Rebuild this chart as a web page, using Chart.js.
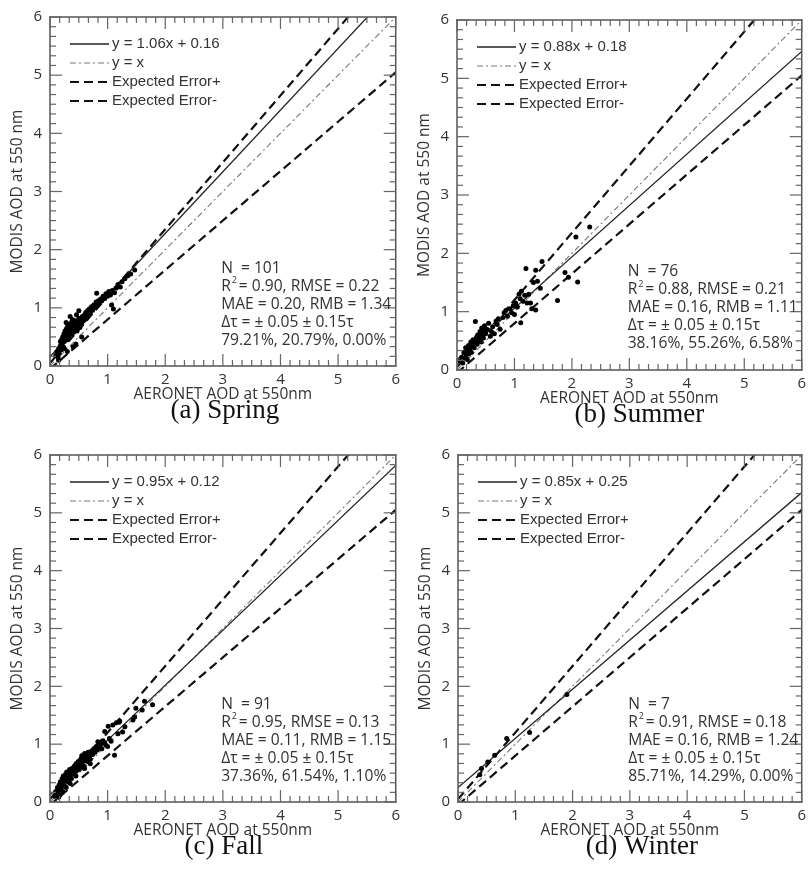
<!DOCTYPE html>
<html>
<head>
<meta charset="utf-8">
<script src="https://cdn.jsdelivr.net/npm/chart.js@4.4.1/dist/chart.umd.min.js"></script>
<style>
  body { margin: 0; background: #fff; width: 811px; height: 872px; position: relative; overflow: hidden; }
  canvas { position: absolute; }
</style>
</head>
<body>
<canvas id="cA" width="405" height="436" style="left:0px;top:0px"></canvas>
<canvas id="cB" width="406" height="436" style="left:405px;top:0px"></canvas>
<canvas id="cC" width="405" height="436" style="left:0px;top:436px"></canvas>
<canvas id="cD" width="406" height="436" style="left:405px;top:436px"></canvas>
<script>
// AERONET vs MODIS AOD, one panel per season
const captions = ['(a) Spring', '(b) Summer', '(c) Fall', '(d) Winter'];
const slopes = [1.06, 0.88, 0.95, 0.85];
const intercepts = [0.16, 0.18, 0.12, 0.25];
const nValues = ['101', '76', '91', '7'];
const r2Values = ['0.90', '0.88', '0.95', '0.91'];
const rmseValues = ['0.22', '0.21', '0.13', '0.18'];
const maeValues = ['0.20', '0.16', '0.11', '0.16'];
const rmbValues = ['1.34', '1.11', '1.15', '1.24'];
const eePercents = ['79.21%, 20.79%, 0.00%', '38.16%, 55.26%, 6.58%', '37.36%, 61.54%, 1.10%', '85.71%, 14.29%, 0.00%'];
const axisTicks = [0, 1, 2, 3, 4, 5, 6];
// expected error envelope: +-(0.05 + 0.15 tau)
const eePlus = [1.15, 0.05];
const eeMinus = [0.85, -0.05];

const springPts = [
  [0.10,0.18],[0.12,0.25],[0.14,0.15],[0.15,0.30],[0.16,0.22],[0.18,0.35],[0.18,0.42],[0.20,0.28],[0.20,0.45],[0.21,0.38],
  [0.22,0.50],[0.23,0.33],[0.24,0.55],[0.25,0.42],[0.26,0.60],[0.27,0.48],[0.28,0.52],[0.29,0.65],[0.30,0.45],[0.30,0.58],
  [0.31,0.70],[0.32,0.55],[0.33,0.62],[0.33,0.50],[0.34,0.68],[0.35,0.58],[0.35,0.72],[0.36,0.64],[0.37,0.55],[0.37,0.75],
  [0.38,0.60],[0.38,0.68],[0.39,0.80],[0.40,0.62],[0.40,0.70],[0.41,0.58],[0.42,0.66],[0.42,0.74],[0.43,0.60],[0.44,0.70],
  [0.44,0.78],[0.45,0.64],[0.46,0.72],[0.46,0.88],[0.47,0.60],[0.48,0.68],[0.48,0.76],[0.50,0.70],[0.50,0.82],[0.52,0.66],
  [0.52,0.74],[0.54,0.80],[0.55,0.72],[0.56,0.85],[0.58,0.78],[0.60,0.88],[0.60,0.80],[0.62,0.92],[0.64,0.84],[0.65,0.95],
  [0.67,0.90],[0.68,0.98],[0.70,0.92],[0.72,1.02],[0.74,0.96],[0.76,1.05],[0.78,1.00],[0.80,1.10],[0.81,1.25],[0.82,1.04],
  [0.84,1.12],[0.86,1.08],[0.88,1.15],[0.90,1.12],[0.92,1.20],[0.95,1.16],[0.97,1.24],[1.00,1.20],[1.02,1.28],[1.05,1.22],
  [1.07,1.05],[1.08,1.30],[1.10,0.98],[1.12,1.26],[1.15,1.34],[1.18,1.40],[1.22,1.36],[1.25,1.45],[1.30,1.50],[1.35,1.55],
  [1.40,1.58],[1.47,1.65],[0.30,0.25],[0.40,0.33],[0.45,0.38],[0.55,0.50],[0.25,0.30],[0.15,0.10],[0.50,0.95],[0.35,0.85],
  [0.28,0.75]
];
const summerPts = [
  [0.05,0.15],[0.08,0.22],[0.10,0.12],[0.12,0.30],[0.14,0.20],[0.15,0.38],[0.16,0.25],[0.18,0.18],[0.18,0.32],[0.20,0.42],
  [0.21,0.28],[0.22,0.35],[0.24,0.48],[0.25,0.30],[0.26,0.40],[0.28,0.45],[0.28,0.52],[0.30,0.38],[0.32,0.83],[0.32,0.50],
  [0.34,0.56],[0.35,0.44],[0.36,0.60],[0.38,0.52],[0.40,0.66],[0.40,0.58],[0.42,0.48],[0.43,0.72],[0.44,0.62],[0.46,0.55],
  [0.47,0.68],[0.48,0.76],[0.50,0.62],[0.52,0.70],[0.55,0.80],[0.58,0.58],[0.62,0.74],[0.68,0.84],[0.70,0.78],[0.72,0.88],
  [0.75,0.70],[0.80,0.90],[0.82,0.98],[0.85,1.02],[0.88,0.92],[0.92,1.05],[0.95,0.98],[0.98,1.10],[1.00,0.95],[1.02,1.15],
  [1.05,1.08],[1.08,1.30],[1.10,1.22],[1.11,0.81],[1.12,1.35],[1.15,1.18],[1.18,1.28],[1.20,1.74],[1.22,1.15],[1.25,1.30],
  [1.28,1.15],[1.30,1.05],[1.33,1.50],[1.37,1.71],[1.37,1.03],[1.40,1.52],[1.48,1.86],[1.75,1.19],[1.88,1.67],[1.94,1.59],
  [2.07,2.28],[2.10,1.51],[2.31,2.45],[0.60,0.66],[0.65,0.62],[1.45,1.40]
];
const fallPts = [
  [0.08,0.10],[0.10,0.18],[0.12,0.14],[0.13,0.25],[0.15,0.20],[0.16,0.30],[0.17,0.12],[0.18,0.35],[0.19,0.22],[0.20,0.28],
  [0.21,0.40],[0.22,0.32],[0.23,0.45],[0.24,0.36],[0.25,0.28],[0.26,0.42],[0.27,0.48],[0.28,0.38],[0.29,0.52],[0.30,0.44],
  [0.31,0.35],[0.32,0.50],[0.33,0.42],[0.34,0.56],[0.35,0.46],[0.36,0.52],[0.37,0.40],[0.38,0.58],[0.39,0.48],[0.40,0.54],
  [0.42,0.62],[0.43,0.50],[0.44,0.58],[0.45,0.66],[0.46,0.54],[0.48,0.60],[0.49,0.70],[0.50,0.56],[0.52,0.64],[0.53,0.74],
  [0.54,0.60],[0.55,0.80],[0.56,0.68],[0.58,0.76],[0.59,0.62],[0.60,0.84],[0.62,0.72],[0.63,0.78],[0.65,0.70],[0.66,0.86],
  [0.68,0.80],[0.70,0.74],[0.72,0.88],[0.74,0.82],[0.76,0.92],[0.78,0.86],[0.80,0.96],[0.82,0.90],[0.83,1.04],[0.85,0.94],
  [0.88,1.00],[0.90,0.92],[0.92,1.06],[0.95,1.22],[0.95,1.02],[0.97,0.98],[1.00,0.96],[1.01,1.31],[1.03,1.10],[1.06,1.05],
  [1.09,1.33],[1.12,0.81],[1.15,1.37],[1.18,1.18],[1.20,1.38],[1.21,1.40],[1.26,1.21],[1.30,1.30],[1.44,1.42],[1.47,1.47],
  [1.49,1.62],[1.60,1.59],[1.64,1.74],[1.78,1.68],[0.15,0.08],[0.22,0.18],[0.28,0.25],[0.35,0.32],[0.45,0.45],[0.60,0.58],
  [0.70,0.66]
];
const winterPts = [[0.38,0.47],[0.41,0.58],[0.52,0.69],[0.64,0.81],[0.85,1.10],[1.25,1.20],[1.90,1.86]];

const seasonPts = [springPts, summerPts, fallPts, winterPts];

// panel placement: canvas id, layout padding, caption shift
const panels = [
  { id: 'cA', pad: { left: 0, top: 16, right: 8, bottom: 30 }, capShift: 2 },
  { id: 'cB', pad: { left: 2, top: 20, right: 3, bottom: 26 }, capShift: 10 },
  { id: 'cC', pad: { left: 0, top: 19, right: 7, bottom: 30 }, capShift: 1 },
  { id: 'cD', pad: { left: 3, top: 19, right: 6, bottom: 30 }, capShift: 12 }
];

const textFont = '"Open Sans", "Noto Sans", sans-serif';
const minorPerUnit = 6;

const decorPlugin = {
  id: 'decor',
  afterDraw(chart, args, opts) {
    const ctx = chart.ctx;
    const area = chart.chartArea;
    const xs = chart.scales.x, ys = chart.scales.y;
    const L = area.left, R = area.right, T = area.top, B = area.bottom;
    ctx.save();
    // frame as filled bars
    ctx.fillStyle = '#555';
    ctx.fillRect(L - 0.75, T - 0.75, R - L + 1.5, 1.5);
    ctx.fillRect(L - 0.75, B - 0.75, R - L + 1.5, 1.5);
    ctx.fillRect(L - 0.75, T - 0.75, 1.5, B - T + 1.5);
    ctx.fillRect(R - 0.75, T - 0.75, 1.5, B - T + 1.5);
    // inward ticks on all four sides
    ctx.fillStyle = '#666';
    const last = axisTicks[axisTicks.length - 1] * minorPerUnit;
    for (let k = 0; k <= last; k++) {
      const v = k / minorPerUnit;
      const len = k % minorPerUnit === 0 ? 12 : 6;
      const px = xs.getPixelForValue(v);
      const py = ys.getPixelForValue(v);
      ctx.fillRect(px - 0.6, B - len, 1.2, len);
      ctx.fillRect(px - 0.6, T, 1.2, len);
      ctx.fillRect(L, py - 0.6, len, 1.2);
      ctx.fillRect(R - len, py - 0.6, len, 1.2);
    }

    // legend, built from the line datasets
    ctx.font = '15px "Liberation Sans", Arial, sans-serif';
    ctx.textBaseline = 'middle';
    let row = 0;
    chart.data.datasets.forEach(ds => {
      if (!ds.showLine) return;
      const ly = T + 27 + row * 19;
      ctx.beginPath();
      ctx.strokeStyle = ds.borderColor;
      ctx.lineWidth = ds.borderWidth;
      ctx.setLineDash(ds.borderDash || []);
      ctx.moveTo(L + 20, ly);
      ctx.lineTo(L + 59, ly);
      ctx.stroke();
      ctx.setLineDash([]);
      ctx.fillStyle = '#333';
      ctx.fillText(ds.label, L + 62, ly);
      row++;
    });

    // statistics block
    const tx = xs.getPixelForValue(2.97);
    let ty = ys.getPixelForValue(1.68);
    const big = '15.6px ' + textFont;
    const small = '9px ' + textFont;
    ctx.fillStyle = '#333';
    ctx.font = big;
    ctx.fillText('N  = ' + opts.n, tx, ty);
    ty += 18;
    ctx.fillText('R', tx, ty);
    const w = ctx.measureText('R').width;
    ctx.font = small;
    ctx.fillText('2', tx + w + 1, ty - 6);
    ctx.font = big;
    ctx.fillText(' = ' + opts.r2 + ', RMSE = ' + opts.rmse, tx + w + 4, ty);
    ty += 18;
    ctx.fillText('MAE = ' + opts.mae + ', RMB = ' + opts.rmb, tx, ty);
    ty += 18;
    ctx.fillText('\u0394\u03c4 = \u00b1 0.05 \u00b1 0.15\u03c4', tx, ty);
    ty += 18;
    ctx.fillText(opts.pct, tx, ty);

    // panel caption
    ctx.font = '27px "Liberation Serif", "Times New Roman", serif';
    ctx.fillStyle = '#111';
    ctx.textAlign = 'center';
    ctx.fillText(opts.caption, (L + R) / 2 + opts.capShift, B + 45);
    ctx.restore();
  }
};

panels.forEach((p, i) => {
  const a = slopes[i], b = intercepts[i];
  const xMax = axisTicks[axisTicks.length - 1];
  const datasets = [
    {
      label: 'AOD', data: seasonPts[i].map(d => ({ x: d[0], y: d[1] })),
      pointRadius: 2.5, pointBackgroundColor: '#000', pointBorderWidth: 0, showLine: false
    },
    {
      label: 'y = ' + a.toFixed(2) + 'x + ' + b.toFixed(2),
      data: [{ x: 0, y: b }, { x: xMax, y: a * xMax + b }],
      showLine: true, borderColor: '#222', borderWidth: 1.3, pointRadius: 0
    },
    {
      label: 'y = x',
      data: [{ x: 0, y: 0 }, { x: xMax, y: xMax }],
      showLine: true, borderColor: '#777', borderWidth: 1.1, borderDash: [6, 3, 2, 3], pointRadius: 0
    },
    {
      label: 'Expected Error+',
      data: [{ x: 0, y: eePlus[1] }, { x: xMax, y: eePlus[0] * xMax + eePlus[1] }],
      showLine: true, borderColor: '#111', borderWidth: 2.2, borderDash: [9, 5], pointRadius: 0
    },
    {
      label: 'Expected Error-',
      data: [{ x: 0, y: eeMinus[1] }, { x: xMax, y: eeMinus[0] * xMax + eeMinus[1] }],
      showLine: true, borderColor: '#111', borderWidth: 2.2, borderDash: [9, 5], pointRadius: 0
    }
  ];
  new Chart(document.getElementById(p.id), {
    type: 'scatter',
    data: { datasets: datasets },
    plugins: [decorPlugin],
    options: {
      responsive: false,
      animation: false,
      devicePixelRatio: 1,
      layout: { padding: p.pad },
      plugins: {
        legend: { display: false },
        tooltip: { enabled: false },
        decor: {
          n: nValues[i], r2: r2Values[i], rmse: rmseValues[i], mae: maeValues[i], rmb: rmbValues[i],
          pct: eePercents[i], caption: captions[i], capShift: p.capShift
        }
      },
      scales: {
        x: {
          type: 'linear', min: 0, max: xMax,
          afterFit: s => { s.height = 40; },
          grid: { display: false, drawTicks: false },
          border: { display: false },
          ticks: { stepSize: 1, padding: 5, color: '#333', font: { family: textFont, size: 15 } },
          title: { display: true, text: 'AERONET AOD at 550nm', color: '#333',
                   font: { family: textFont, size: 15.5 }, padding: { top: 0, bottom: 2 } }
        },
        y: {
          type: 'linear', min: 0, max: xMax,
          afterFit: s => { s.width = 50; },
          grid: { display: false, drawTicks: false },
          border: { display: false },
          ticks: { stepSize: 1, padding: 8, color: '#333', font: { family: textFont, size: 15 } },
          title: { display: true, text: 'MODIS AOD at 550 nm', color: '#333',
                   font: { family: textFont, size: 15.5 }, padding: { top: 8, bottom: 0 } }
        }
      }
    }
  });
});
</script>
</body>
</html>
